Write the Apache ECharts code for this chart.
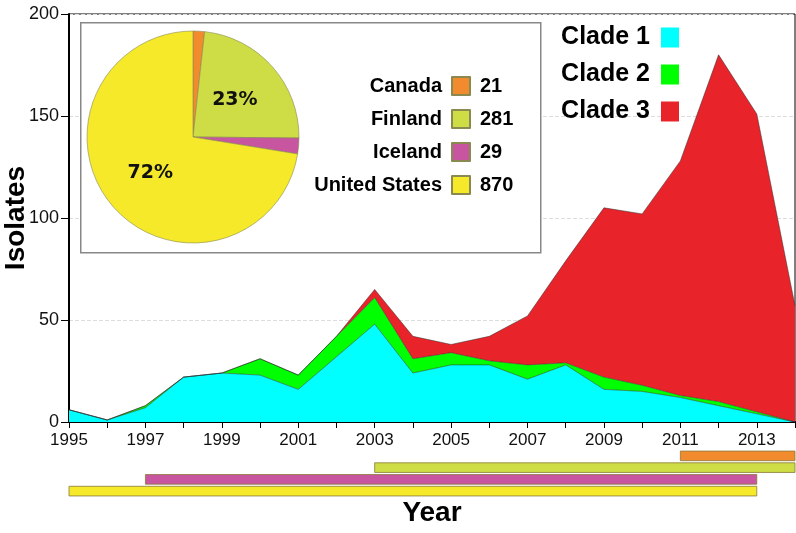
<!DOCTYPE html>
<html>
<head>
<meta charset="utf-8">
<script src="https://cdn.jsdelivr.net/npm/echarts@6/dist/echarts.min.js"></script>
<style>
  html, body { margin: 0; padding: 0; background: #fff; }
  #chart { width: 796px; height: 533px; }
</style>
</head>
<body>
<div id="chart"></div>
<script>
const years = ['1995', '1996', '1997', '1998', '1999', '2000', '2001', '2002', '2003', '2004',
  '2005', '2006', '2007', '2008', '2009', '2010', '2011', '2012', '2013', '2014']
const clade1 = [6, 1, 7, 22, 24, 23, 16, 32, 48, 24, 28, 28, 21, 28, 16, 15, 12, 8, 4, 0]
const clade2 = [0, 0, 1, 0, 0, 8, 7, 10, 13, 7, 6, 2, 7, 1, 6, 3, 1, 2, 1, 0]
const clade3 = [0, 0, 0, 0, 0, 0, 0, 0, 4, 11, 4, 12, 24, 50, 83, 84, 115, 170, 146, 57]
const yTicks = [0, 50, 100, 150, 200]

const countries = ['Canada', 'Finland', 'Iceland', 'United States']
const countryCounts = [21, 281, 29, 870]
const countryColors = ['#f28a2e', '#cedc45', '#c8559f', '#f5e92a']
// sampling period of each country, drawn under the x axis
const periodStart = [2011, 2003, 1997, 1995]
const periodEnd = [2014, 2014, 2013, 2013]

const font = 'Liberation Sans, Arial, sans-serif'
const total = countryCounts.reduce((a, b) => a + b, 0)

const chart = echarts.init(document.getElementById('chart'))

function areaSeries(name, data, color) {
  return {
    name: name,
    type: 'line',
    stack: 'clades',
    data: data,
    symbol: 'none',
    color: color,
    lineStyle: { width: 0.7, color: 'rgba(40,40,40,0.7)' },
    areaStyle: { color: color, opacity: 1 },
    z: 2
  }
}

chart.setOption({
  backgroundColor: '#fff',
  animation: false,
  grid: [
    { left: 69, right: 1, top: 14, bottom: 111, show: true, borderColor: '#000', borderWidth: 1, outerBoundsMode: 'none', containLabel: false },
    { left: 69, right: 1, top: 450, height: 47, outerBoundsMode: 'none', containLabel: false }
  ],
  xAxis: [
    {
      type: 'category',
      gridIndex: 0,
      data: years,
      boundaryGap: false,
      name: 'Year',
      nameLocation: 'middle',
      nameGap: 77,
      nameMoveOverlap: false,
      nameTextStyle: { fontFamily: font, fontWeight: 'bold', fontSize: 28, color: '#000' },
      axisLine: { lineStyle: { color: '#000', width: 2 } },
      axisTick: { interval: 0, length: 6, lineStyle: { color: '#000', width: 1 } },
      axisLabel: { interval: 1, fontFamily: font, fontSize: 17, color: '#111', margin: 10 },
      splitLine: { show: false }
    },
    {
      type: 'value',
      gridIndex: 1,
      min: 1995,
      max: 2014,
      show: false
    }
  ],
  yAxis: [
    {
      type: 'value',
      gridIndex: 0,
      min: 0,
      max: 200,
      interval: 50,
      name: 'Isolates',
      nameLocation: 'middle',
      nameGap: 39,
      nameMoveOverlap: false,
      nameTextStyle: { fontFamily: font, fontWeight: 'bold', fontSize: 28, color: '#000' },
      axisLine: { show: true, lineStyle: { color: '#000', width: 2 } },
      axisTick: { show: true, length: 8, lineStyle: { color: '#000' } },
      axisLabel: {
        fontFamily: font, fontSize: 18, color: '#111', margin: 10,
        formatter: v => (yTicks.includes(v) ? String(v) : '')
      },
      splitLine: { show: true, lineStyle: { color: '#ddd', type: 'dashed' } }
    },
    {
      type: 'category',
      gridIndex: 1,
      data: countries,
      inverse: true,
      show: false
    }
  ],
  legend: [
    {
      data: ['Clade 1', 'Clade 2', 'Clade 3'],
      orient: 'vertical',
      right: 112,
      top: 20,
      align: 'right',
      icon: 'rect',
      itemWidth: 18,
      itemHeight: 20,
      itemGap: 12,
      selectedMode: false,
      textStyle: { fontFamily: font, fontWeight: 'bold', fontSize: 25, color: '#000', padding: [0, 6, 0, 0] }
    },
    {
      data: countries,
      orient: 'vertical',
      right: 320,
      top: 71,
      align: 'right',
      icon: 'rect',
      itemWidth: 18,
      itemHeight: 18,
      itemGap: 13,
      selectedMode: false,
      z: 12,
      textStyle: { fontFamily: font, fontWeight: 'bold', fontSize: 20, color: '#000', padding: [0, 5, 0, 0] }
    },
    {
      data: countries,
      orient: 'vertical',
      left: 447,
      top: 71,
      align: 'left',
      icon: 'rect',
      itemWidth: 22,
      itemHeight: 18,
      itemGap: 13,
      selectedMode: false,
      z: 12,
      itemStyle: { opacity: 0 },
      formatter: name => String(countryCounts[countries.indexOf(name)]),
      textStyle: { fontFamily: font, fontWeight: 'bold', fontSize: 20, color: '#000' }
    }
  ],
  graphic: [
    {
      type: 'rect',
      left: 80,
      top: 22,
      z: 8,
      shape: { width: 460, height: 230 },
      style: { fill: '#fff', stroke: '#888', lineWidth: 1.5 }
    }
  ],
  series: [
    areaSeries('Clade 1', clade1, '#00ffff'),
    areaSeries('Clade 2', clade2, '#00ff00'),
    areaSeries('Clade 3', clade3, '#e8242a'),
    {
      type: 'pie',
      center: [193, 137],
      radius: [0, 106],
      startAngle: 90,
      clockwise: true,
      z: 10,
      data: countries.map((c, i) => ({
        name: c,
        value: countryCounts[i],
        itemStyle: { color: countryColors[i] }
      })),
      itemStyle: { borderColor: '#8a8a50', borderWidth: 0.6 },
      label: {
        position: 'inside',
        fontFamily: 'DejaVu Sans, sans-serif',
        fontWeight: 'bold',
        fontSize: 19,
        color: '#111',
        formatter: p => (p.value / total > 0.1 ? Math.round(p.value / total * 100) + '%' : '')
      },
      labelLine: { show: false },
      emphasis: { disabled: true }
    },
    {
      type: 'custom',
      xAxisIndex: 1,
      yAxisIndex: 1,
      data: countries.map((c, i) => [periodStart[i], periodEnd[i], i]),
      renderItem: (params, api) => {
        const a = api.coord([api.value(0), api.value(2)])
        const b = api.coord([api.value(1), api.value(2)])
        const h = api.size([0, 1])[1] * 0.82
        return {
          type: 'rect',
          shape: { x: a[0], y: a[1] - h / 2, width: b[0] - a[0], height: h },
          style: { fill: countryColors[params.dataIndex], stroke: '#8a7a3a', lineWidth: 0.8 }
        }
      }
    }
  ]
})
</script>
</body>
</html>
